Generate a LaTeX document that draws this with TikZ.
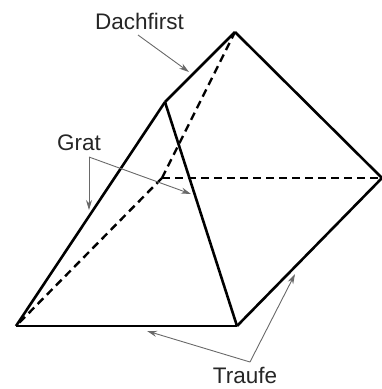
\documentclass[tikz,border=0pt]{standalone}
\usepackage{fontspec}
\setmainfont{Liberation Sans}
\definecolor{leadergray}{RGB}{105, 105, 105}
\usetikzlibrary{arrows.meta,positioning}

\begin{document}
\begin{tikzpicture}[
      x=1pt,y=-1pt,
      edge/.style={black,line width=2.6pt,line join=miter},
      hidden/.style={black,line width=2.4pt,dash pattern=on 8pt off 5pt},
      leader/.style={leadergray,line width=0.9pt,-{Stealth[length=10pt,width=6pt]}},
      term/.style={inner sep=0pt,font=\fontsize{22.5}{25}\selectfont,text=black!85}
    ]
    \useasboundingbox (0,0) rectangle (382,389);

    % roof corners
    \coordinate (apex) at (235,32);
    \coordinate (front) at (165,102);
    \coordinate (left) at (16,326);
    \coordinate (bottom) at (237,326);
    \coordinate (right) at (382,178);
    \coordinate (back) at (162,178);

    \draw[hidden] (back) -- (left);
    \draw[hidden] (back) -- (apex);
    \draw[hidden] (back) -- (right);

    \draw[edge] (left) -- (front);
    \draw[edge] (front) -- (apex);
    \draw[edge] (apex) -- (right);
    \draw[edge] (right) -- (bottom);
    \draw[edge] (bottom) -- (left);
    \draw[edge] (front) -- (bottom);

    \node[term] (first) at (139.5,21) {Dachfirst};
    \node[term] (grat) at (79,143) {Grat};
    \node[term] (traufe) at (245,375) {Traufe};

    % leader ends
    \coordinate (firstfrom) at (138,35);
    \coordinate (firstto) at (189,72);
    \coordinate (gratfrom) at (89,157);
    \coordinate (gratleft) at (89,210);
    \coordinate (gratright) at (191,194);
    \coordinate (traufefrom) at (250,362);
    \coordinate (traufeleft) at (147,331);
    \coordinate (trauferight) at (295,274);

    \draw[leader] (firstfrom) -- (firstto);
    \draw[leader] (gratfrom) -- (gratleft);
    \draw[leader] (gratfrom) -- (gratright);
    \draw[leader] (traufefrom) -- (traufeleft);
    \draw[leader] (traufefrom) -- (trauferight);
  \end{tikzpicture}
\end{document}
